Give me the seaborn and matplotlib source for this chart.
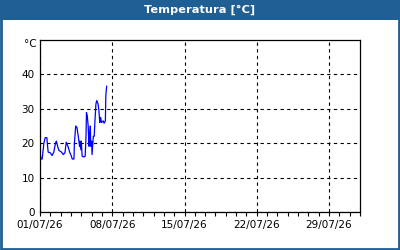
import pandas as pd
import matplotlib
matplotlib.use("Agg")
import matplotlib.pyplot as plt
import matplotlib.dates as mdates
from matplotlib.patches import Rectangle
import seaborn as sns

# stunden seit 01/07/26 00:00 und temperatur
hours = [1, 2, 5, 9, 12, 16, 17, 19, 24, 28, 32, 36, 38, 41, 44, 50, 54, 58, 61, 65,
         69, 73, 75, 79, 80, 83, 86, 89, 92, 93, 95, 96, 98, 102, 105, 107, 108, 110,
         112, 114, 115, 117, 118, 120, 121, 124, 126, 128, 130, 132, 135, 137, 139,
         141, 143, 147, 149, 152, 153, 155]
temp = [16.4, 15.4, 15.4, 20.0, 21.6, 21.6, 20.0, 17.4, 17.2, 16.4, 17.4, 20.0, 20.6,
        19.1, 17.9, 17.4, 16.7, 17.2, 20.3, 19.1, 17.4, 16.2, 15.4, 15.4, 20.0, 25.0,
        24.5, 22.0, 19.1, 20.6, 18.1, 20.6, 16.2, 16.0, 16.2, 22.0, 28.9, 27.9, 25.0,
        19.1, 21.0, 25.0, 19.1, 20.6, 16.7, 22.0, 22.0, 27.0, 31.4, 32.4, 31.4, 29.4,
        26.0, 27.5, 26.0, 26.5, 25.8, 26.5, 33.8, 36.6]
yticks = [0, 10, 20, 30, 40]
xticks = ["2026-07-01", "2026-07-08", "2026-07-15", "2026-07-22", "2026-07-29"]

start = pd.Timestamp("2026-07-01")
df = pd.DataFrame({"Zeit": start + pd.to_timedelta(hours, unit="h"), "Temp": temp})

sns.set_style("white")
plt.rcParams["font.family"] = ["DejaVu Sans"]

fig = plt.figure(figsize=(4, 2.5), dpi=100)
fig.patch.set_facecolor("white")

# titelbalken und rahmen
blue = "#1f5f94"
fig.patches.append(Rectangle((0, 0.92), 1, 0.08, transform=fig.transFigure,
                             facecolor=blue, edgecolor="none", zorder=0))
fig.patches.append(Rectangle((0.003, 0.005), 0.994, 0.99, transform=fig.transFigure,
                             facecolor="none", edgecolor=blue, linewidth=2, zorder=0))
fig.text(0.5, 0.962, "Temperatura [°C]", color="white", fontsize=8.2, fontweight="bold",
         ha="center", va="center")

ax = fig.add_axes([0.1, 0.152, 0.8, 0.688])
sns.lineplot(data=df, x="Zeit", y="Temp", ax=ax, color="#0000ff", linewidth=0.9)

ax.set_xlim(start, pd.Timestamp("2026-08-01"))
ax.set_ylim(0, 50)
ax.set_xlabel("")
ax.set_ylabel("")
ax.set_yticks(yticks)
ax.set_yticklabels([str(v) for v in yticks], fontsize=7.5, color="black")
ax.set_xticks(pd.to_datetime(xticks))
ax.xaxis.set_major_formatter(mdates.DateFormatter("%d/%m/%y"))
ax.xaxis.set_minor_locator(mdates.DayLocator())
ax.tick_params(axis="x", which="both", direction="out", length=3, width=0.8,
               labelsize=7.5, pad=3, bottom=True, colors="black")
ax.tick_params(axis="y", length=0, pad=4, colors="black")
ax.grid(True, which="major", color="black", linestyle=(0, (3, 3)), linewidth=0.8)
for s in ax.spines.values():
    s.set_color("black")
    s.set_linewidth(0.9)
ax.text(-0.012, 0.975, "°C", transform=ax.transAxes, ha="right", va="center",
        fontsize=7.5, color="black")

fig.savefig("out.png", dpi=100)
